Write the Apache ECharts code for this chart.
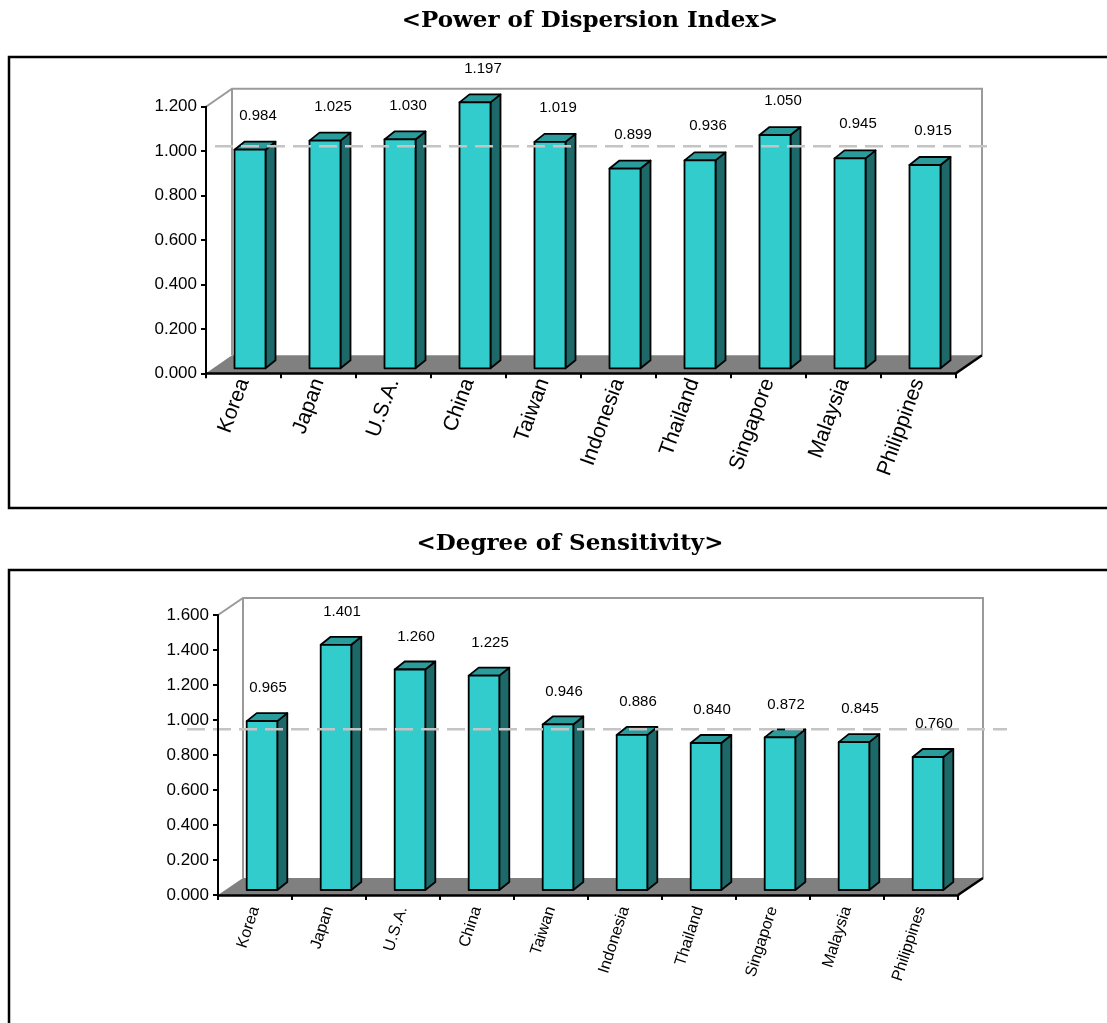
<!DOCTYPE html>
<html>
<head>
<meta charset="utf-8">
<script src="https://cdn.jsdelivr.net/npm/echarts@6/dist/echarts.min.js"></script>
<style>
  html, body { margin: 0; padding: 0; background: #fff; }
  #chart { width: 1107px; height: 1023px; }
</style>
</head>
<body>
<div id="chart"></div>
<script>
// Countries shown on both category axes
const countries = ['Korea', 'Japan', 'U.S.A.', 'China', 'Taiwan', 'Indonesia', 'Thailand', 'Singapore', 'Malaysia', 'Philippines'];

// Power of dispersion index per country
const dispersionValues = [0.984, 1.025, 1.030, 1.197, 1.019, 0.899, 0.936, 1.050, 0.945, 0.915];

// Degree of sensitivity per country
const sensitivityValues = [0.965, 1.401, 1.260, 1.225, 0.946, 0.886, 0.840, 0.872, 0.845, 0.760];

// Value-axis ranges and the dashed reference levels
const dispersionAxisMax = 1.2;
const sensitivityAxisMax = 1.6;
const axisStep = 0.2;
const dispersionRefLevel = 1.0;
const sensitivityRefLevel = 0.918;

const FRONT = '#33CCCC';
const SIDE = '#1D6868';
const TOP = '#2A9C9C';
const FLOOR = '#808080';
const WALL = '#9A9A9A';
const SANS = '"Liberation Sans", Arial, sans-serif';

// pseudo-3D layout of each panel: depth of the floor, where bars sit in it
const geomTop = {
  depthX: 26, depthY: -18,
  barShiftX: 6.5, barShiftY: -5, barHalf: 15.5, barDepthX: 10, barDepthY: -8,
  labelDx: 8, labelRise: 34,
  refLeft: 9, refRight: 34
};
const geomBottom = {
  depthX: 25, depthY: -17,
  barShiftX: 7, barShiftY: -5, barHalf: 15.3, barDepthX: 10, barDepthY: -8,
  labelDx: 6, labelRise: 33,
  refLeft: -31, refRight: 49
};

function barRenderer(g) {
  return function (params, api) {
    const i = api.value(0);
    const v = api.value(1);
    const base = api.coord([i, 0]);
    const top = api.coord([i, v]);
    const cx = base[0] + g.barShiftX;
    const y0 = base[1] + g.barShiftY;
    const y1 = top[1] + g.barShiftY;
    const L = cx - g.barHalf, R = cx + g.barHalf;
    const dx = g.barDepthX, dy = g.barDepthY;
    const edge = { stroke: '#000', lineWidth: 1.8, lineJoin: 'round' };
    return {
      type: 'group',
      children: [
        { type: 'polygon', shape: { points: [[R, y1], [R + dx, y1 + dy], [R + dx, y0 + dy], [R, y0]] },
          style: Object.assign({ fill: SIDE }, edge) },
        { type: 'polygon', shape: { points: [[L, y1], [L + dx, y1 + dy], [R + dx, y1 + dy], [R, y1]] },
          style: Object.assign({ fill: TOP }, edge) },
        { type: 'rect', shape: { x: L, y: y1, width: R - L, height: y0 - y1 },
          style: Object.assign({ fill: FRONT }, edge) },
        { type: 'text', x: cx + g.labelDx, y: y1 - g.labelRise,
          style: { text: v.toFixed(3), font: '15px ' + SANS, fill: '#000',
                   textAlign: 'center', textVerticalAlign: 'middle', align: 'center', verticalAlign: 'middle' } }
      ]
    };
  };
}

function stageRenderer(g, axisMax) {
  return function (params, api) {
    const cs = params.coordSys;
    const x = cs.x, w = cs.width;
    const yb = api.coord([0, 0])[1];
    const yt = api.coord([0, axisMax])[1];
    const DX = g.depthX, DY = g.depthY;
    return {
      type: 'group',
      children: [
        { type: 'polygon', shape: { points: [[x, yb], [x + w, yb], [x + w + DX, yb + DY], [x + DX, yb + DY]] },
          style: { fill: FLOOR } },
        { type: 'polyline', shape: { points: [[x, yt], [x + DX, yt + DY], [x + w + DX, yt + DY], [x + w + DX, yb + DY]] },
          style: { fill: null, stroke: WALL, lineWidth: 2 } },
        { type: 'line', shape: { x1: x + DX, y1: yt + DY, x2: x + DX, y2: yb + DY },
          style: { stroke: WALL, lineWidth: 2 } },
        { type: 'line', shape: { x1: x + w, y1: yb, x2: x + w + DX, y2: yb + DY },
          style: { stroke: '#000', lineWidth: 2.5 } }
      ]
    };
  };
}

function refRenderer(g) {
  return function (params, api) {
    const cs = params.coordSys;
    const y = api.coord([0, api.value(0)])[1] + g.barShiftY;
    return {
      type: 'line',
      shape: { x1: cs.x + g.refLeft, y1: y, x2: cs.x + cs.width + g.refRight, y2: y },
      style: { stroke: '#C4C4C4', lineWidth: 2.5, lineDash: [18, 8] }
    };
  };
}

function valueAxis(idx, max) {
  return {
    type: 'value', gridIndex: idx, min: 0, max: max, interval: axisStep, z: 5,
    axisLine: { show: true, lineStyle: { color: '#000', width: 2 } },
    axisTick: { show: true, length: 5, lineStyle: { color: '#000', width: 2 } },
    axisLabel: { color: '#000', fontSize: 17, fontFamily: SANS, margin: 9,
                 formatter: v => v.toFixed(3) },
    splitLine: { show: false }
  };
}

function categoryAxis(idx, rotate, size, margin) {
  return {
    type: 'category', gridIndex: idx, data: countries, boundaryGap: true, z: 5,
    axisLine: { show: true, lineStyle: { color: '#000', width: 2.5 } },
    axisTick: { show: true, length: 5, lineStyle: { color: '#000', width: 2 } },
    axisLabel: { interval: 0, rotate: rotate, color: '#000', fontSize: size, fontFamily: SANS, margin: margin }
  };
}

const chart = echarts.init(document.getElementById('chart'), null, { renderer: 'canvas' });

chart.setOption({
  animation: false,
  backgroundColor: '#fff',
  grid: [
    { left: 206, top: 106.7, width: 750, height: 266.6 },
    { left: 218, top: 615, width: 740, height: 280 }
  ],
  xAxis: [categoryAxis(0, 70, 21, 6), categoryAxis(1, 72, 16, 12)],
  yAxis: [valueAxis(0, dispersionAxisMax), valueAxis(1, sensitivityAxisMax)],
  graphic: [
    { type: 'rect', shape: { x: 9, y: 57, width: 1130, height: 451 },
      style: { fill: 'none', stroke: '#000', lineWidth: 2.5 } },
    { type: 'rect', shape: { x: 9, y: 570, width: 1130, height: 500 },
      style: { fill: 'none', stroke: '#000', lineWidth: 2.5 } },
    { type: 'text', x: 590, y: 21,
      style: { text: '<Power of Dispersion Index>', font: 'bold 23px "DejaVu Serif", serif', fill: '#000',
               textAlign: 'center', textVerticalAlign: 'middle' } },
    { type: 'text', x: 570, y: 544,
      style: { text: '<Degree of Sensitivity>', font: 'bold 23px "DejaVu Serif", serif', fill: '#000',
               textAlign: 'center', textVerticalAlign: 'middle' } }
  ],
  series: [
    { type: 'custom', xAxisIndex: 0, yAxisIndex: 0, z: 1, silent: true,
      renderItem: stageRenderer(geomTop, dispersionAxisMax), data: [[0, 0]] },
    { type: 'custom', xAxisIndex: 0, yAxisIndex: 0, z: 3, silent: true,
      renderItem: barRenderer(geomTop), data: dispersionValues.map((v, i) => [i, v]) },
    { type: 'custom', xAxisIndex: 0, yAxisIndex: 0, z: 4, silent: true,
      renderItem: refRenderer(geomTop), encode: { y: 0 }, data: [[dispersionRefLevel]] },

    { type: 'custom', xAxisIndex: 1, yAxisIndex: 1, z: 1, silent: true,
      renderItem: stageRenderer(geomBottom, sensitivityAxisMax), data: [[0, 0]] },
    { type: 'custom', xAxisIndex: 1, yAxisIndex: 1, z: 3, silent: true,
      renderItem: barRenderer(geomBottom), data: sensitivityValues.map((v, i) => [i, v]) },
    { type: 'custom', xAxisIndex: 1, yAxisIndex: 1, z: 4, silent: true,
      renderItem: refRenderer(geomBottom), encode: { y: 0 }, data: [[sensitivityRefLevel]] }
  ]
});
</script>
</body>
</html>
